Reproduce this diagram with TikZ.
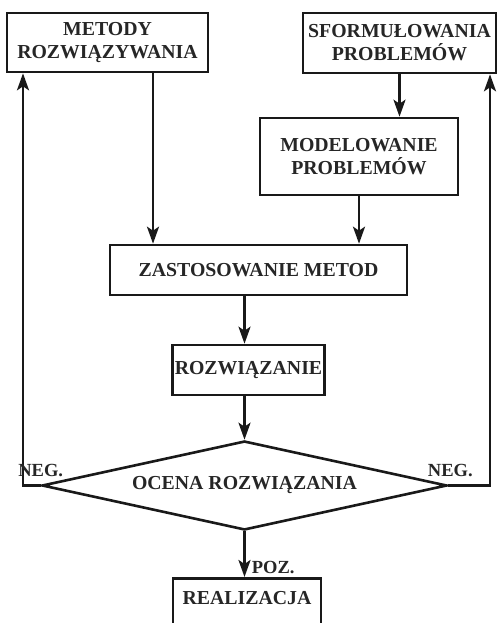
\documentclass[tikz,border=0pt]{standalone}
\usepackage{fontspec}
\setmainfont{Liberation Serif}
\usetikzlibrary{positioning, shapes.geometric, arrows.meta}

\begin{document}
\begin{tikzpicture}[
    x=1pt, y=-1pt,
    % boxes of the flow chart
    box/.style={draw=black!90, fill=white, line width=2.6pt, align=center, inner sep=2pt,
                font=\fontsize{19.8}{23}\selectfont\bfseries, text=black!85},
    decision/.style={diamond, draw=black!90, fill=white, line width=2.6pt, aspect=4.5,
                     minimum width=405pt, minimum height=89pt, inner sep=0pt,
                     font=\fontsize{19.8}{23}\selectfont\bfseries, text=black!85},
    arr/.style={-{Stealth[length=17pt, width=12pt, inset=4pt]}, line width=2.6pt, black!90},
    lbl/.style={font=\fontsize{18.5}{20}\selectfont\bfseries, text=black!85, inner sep=1pt}
]

\useasboundingbox (0,0) rectangle (497,623);

% ===== TOP ROW =====
\node[box, minimum width=201pt, minimum height=59pt] (metody) at (107.5,42.5) {METODY\\ROZWIĄZYWANIA};
\node[box, minimum width=193pt, minimum height=60pt] (sform) at (399.5,43) {SFORMUŁOWANIA\\PROBLEMÓW};
\node[box, minimum width=198pt, minimum height=77pt] (model) at (359,156.5) {MODELOWANIE\\PROBLEMÓW};

% ===== MAIN AXIS =====
\node[box, minimum width=297pt, minimum height=50pt] (zast) at (258.5,270) {ZASTOSOWANIE METOD};
\node[box, minimum width=147pt, minimum height=50pt] (rozw) at (248.5,370) {ROZWIĄZANIE};
\node[decision] (ocena) at (244.5,485.5) {OCENA ROZWIĄZANIA};
\node[box, minimum width=148pt, text height=13pt, text depth=40pt, inner ysep=13pt, anchor=north] (realiz) at (247,577) {REALIZACJA};

% taps on the top boxes
\coordinate (mout) at ([xshift=45.5pt]metody.south);
\coordinate (min) at ([xshift=-84.5pt]metody.south);
\coordinate (sin) at ([xshift=90.5pt]sform.south);

% forward arrows
\draw[arr] (mout) -- (mout |- zast.north);
\draw[arr] (sform.south) -- (sform.south |- model.north);
\draw[arr] (model.south) -- (model.south |- zast.north);
\draw[arr] (ocena.north |- zast.south) -- (ocena.north |- rozw.north);
\draw[arr] (ocena.north |- rozw.south) -- (ocena.north);
\draw[arr] (ocena.south) -- (ocena.south |- realiz.north)
    node[lbl, pos=1, anchor=base west, xshift=5pt, yshift=4pt] {POZ.};

% feedback arrows
\draw[arr] (ocena.west) node[lbl, above, yshift=6pt] {NEG.} -| (min);
\draw[arr] (ocena.east) node[lbl, above, xshift=2pt, yshift=6pt] {NEG.} -| (sin);

\end{tikzpicture}
\end{document}
